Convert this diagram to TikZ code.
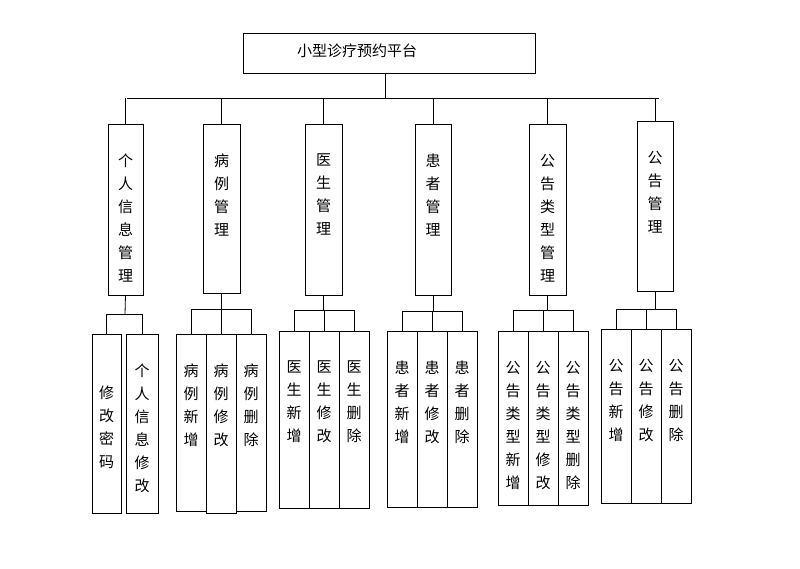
\documentclass[tikz,border=0pt]{standalone}
\usepackage{fontspec}
\newfontfamily\cjk{Noto Sans CJK SC}
\begin{document}
\begin{tikzpicture}[x=1pt,y=-1pt,
  boxst/.style={draw,line width=0.8pt},
  lbl/.style={anchor=north,align=center,font=\cjk\fontsize{15}{23}\selectfont,inner sep=0pt},
  ln/.style={line width=0.8pt}]
\useasboundingbox (0,0) rectangle (800,569);
\newcommand\vb[7]{%
  \draw[boxst] (#2,#3) rectangle (#4,#5);
  \coordinate (#1t) at ({(#2+#4)/2},#3);
  \coordinate (#1b) at ({(#2+#4)/2},#5);
  \node[lbl] (#1l) at ({(#2+#4)/2},#3+#7) {#6};}
% top
\draw[boxst] (243,33) rectangle (535,73);
\node[font=\cjk\fontsize{15}{18}\selectfont] (root) at (357,51) {小型诊疗预约平台};
\coordinate (rb) at (385,73);
\draw[ln] (rb) -- (385,98);
\draw[ln] (127,98) -- (659,98);
% level 2
\vb{a}{108}{124}{143}{295}{个\\人\\信\\息\\管\\理}{30}
\vb{b}{203}{124}{240}{293}{病\\例\\管\\理}{30}
\vb{c}{305}{124}{342}{295}{医\\生\\管\\理}{30}
\vb{d}{415}{124}{451}{295}{患\\者\\管\\理}{30}
\vb{e}{529}{124}{566}{295}{公\\告\\类\\型\\管\\理}{30}
\vb{f}{637}{121}{673}{291}{公\\告\\管\\理}{30}
\foreach \n in {a,b,c,d,e,f}{\draw[ln] (\n t) -- (\n t|-0,98);}
% level 3
\vb{a1}{92}{334}{121}{513}{修\\改\\密\\码}{52}
\vb{a2}{126}{334}{158}{513}{个\\人\\信\\息\\修\\改}{30}
\draw[ln] (ab) -- (125,314); \draw[ln] (a1t|-0,314) -- (a2t|-0,314);
\foreach \n in {a1,a2}{\draw[ln] (\n t) -- (\n t|-0,314);}
\vb{b1}{176}{334}{206}{511}{病\\例\\新\\增}{30}
\vb{b2}{206}{334}{236}{513}{病\\例\\修\\改}{30}
\vb{b3}{236}{334}{266}{511}{病\\例\\删\\除}{30}
\vb{c1}{279}{331}{309}{508}{医\\生\\新\\增}{30}
\vb{c2}{309}{331}{339}{508}{医\\生\\修\\改}{30}
\vb{c3}{339}{331}{369}{508}{医\\生\\删\\除}{30}
\vb{d1}{387}{331}{417}{507}{患\\者\\新\\增}{30}
\vb{d2}{417}{331}{447}{507}{患\\者\\修\\改}{30}
\vb{d3}{447}{331}{477}{507}{患\\者\\删\\除}{30}
\vb{e1}{498}{331}{528}{505}{公\\告\\类\\型\\新\\增}{30}
\vb{e2}{528}{331}{558}{505}{公\\告\\类\\型\\修\\改}{30}
\vb{e3}{558}{331}{588}{505}{公\\告\\类\\型\\删\\除}{30}
\vb{f1}{601}{329}{631}{503}{公\\告\\新\\增}{30}
\vb{f2}{631}{329}{661}{503}{公\\告\\修\\改}{30}
\vb{f3}{661}{329}{691}{503}{公\\告\\删\\除}{30}
\foreach \g/\h in {b/309,c/310,d/311,e/310,f/309}{
  \draw[ln] (\g b) -- (\g b|-0,\h);
  \draw[ln] (\g 1t|-0,\h) -- (\g 3t|-0,\h);
  \foreach \i in {1,2,3}{\draw[ln] (\g\i t) -- (\g\i t|-0,\h);}
}
\end{tikzpicture}
\end{document}
